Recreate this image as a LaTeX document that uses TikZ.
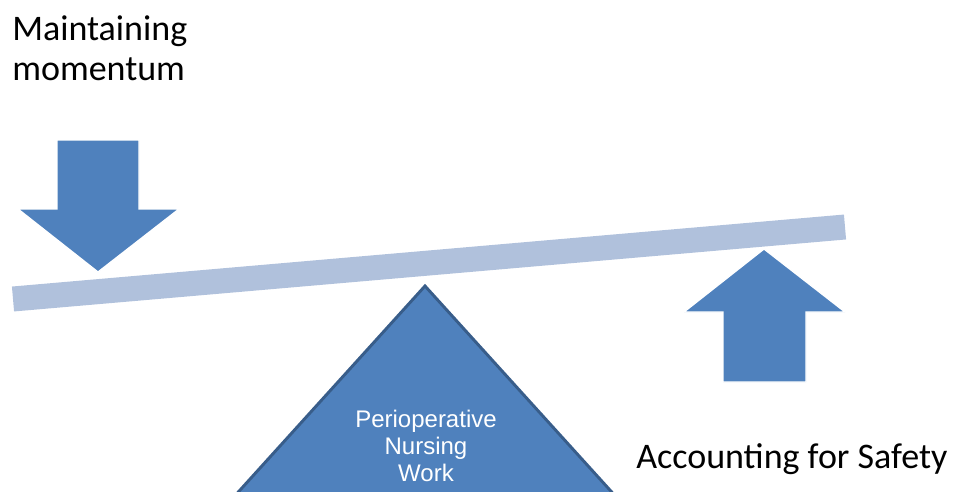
\documentclass[tikz,border=0pt]{standalone}
\usepackage{fontspec}
\setmainfont{Carlito}
\newfontfamily\arialfont{Liberation Sans}
\definecolor{arrowblue}{HTML}{4F81BD}
\definecolor{edgeblue}{HTML}{385D8A}
\definecolor{beamblue}{HTML}{B0C1DC}
\tikzset{
  shapefill/.style={fill=arrowblue, draw=white, line width=1pt, line join=miter},
  bigtext/.style={font=\fontsize{27}{30}\selectfont, text=black, inner sep=0pt},
  tritext/.style={font=\arialfont\fontsize{18}{20.25}\selectfont, text=white, align=center, inner sep=0pt}
}
\begin{document}
\begin{tikzpicture}[x=0.75pt, y=-0.75pt]
\useasboundingbox (0,0) rectangle (960,492);
\clip (0,0) rectangle (960,492);
% beam
\coordinate (bl) at (13,299);
\coordinate (br) at (845,227);
\draw[beamblue, line width=18.75pt] (bl) -- (br);
% fulcrum triangle
\filldraw[fill=arrowblue, draw=edgeblue, line width=2.2pt, line join=miter]
  (425,286) -- (628,510) -- (222,510) -- cycle;
\node[tritext] (work) at (426,446) {Perioperative\\Nursing\\Work};
% down arrow
\draw[shapefill] (57,140) -- (139,140) -- (139,209) -- (179,209) -- (98,272)
  -- (18,209) -- (57,209) -- cycle;
% up arrow
\draw[shapefill] (764,249) -- (845,312) -- (806,312) -- (806,382) -- (723,382)
  -- (723,312) -- (684,312) -- cycle;
% labels
\node[bigtext, anchor=base west, align=left] (mm) at (12,81) {Maintaining\\momentum};
\node[bigtext, anchor=base west] (safe) at (636,468) {Accounting for Safety};
\end{tikzpicture}
\end{document}
